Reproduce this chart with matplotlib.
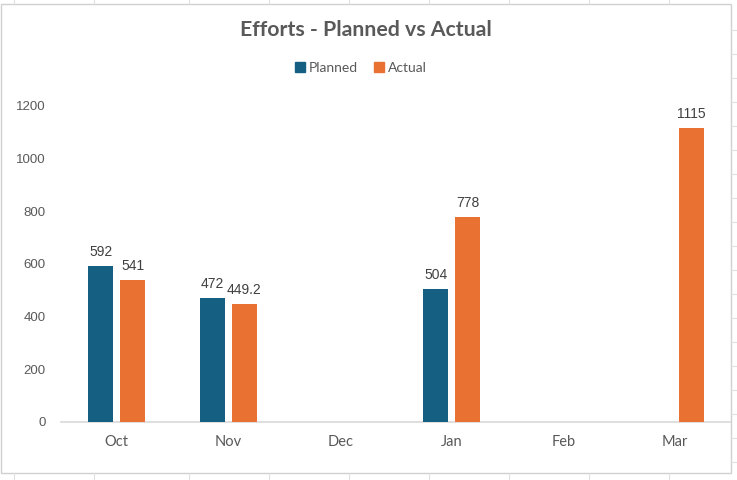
import numpy as np
import matplotlib
matplotlib.use("Agg")
import matplotlib.pyplot as plt
from matplotlib.lines import Line2D
from matplotlib.patches import Rectangle

# dados do grafico
meses = ['Oct', 'Nov', 'Dec', 'Jan', 'Feb', 'Mar']
planned = [592, 472, None, 504, None, None]
actual = [541, 449.2, None, 778, None, 1115]
rotulos_planned = ['592', '472', '', '504', '', '']
rotulos_actual = ['541', '449.2', '', '778', '', '1115']
yticks = [0, 200, 400, 600, 800, 1000, 1200]

cor_planned = '#156082'
cor_actual = '#E97132'
cinza_txt = '#595959'
narrow = ['Lato', 'DejaVu Sans']

fig = plt.figure(figsize=(7.37, 4.80), dpi=100)
ax = fig.add_axes([61/737, 1-422/480, 670/737, 316/480])

x = np.arange(len(meses))
larg = 0.224
desl = 0.143

for i in range(len(meses)):
    if planned[i] is not None:
        ax.bar(x[i]-desl, planned[i], larg, color=cor_planned, zorder=3)
        ax.annotate(rotulos_planned[i], (x[i]-desl, planned[i]), xytext=(0, 5),
                    textcoords='offset points', ha='center', va='bottom',
                    fontsize=10, color='#404040', family='Liberation Sans')
    if actual[i] is not None:
        ax.bar(x[i]+desl, actual[i], larg, color=cor_actual, zorder=3)
        ax.annotate(rotulos_actual[i], (x[i]+desl, actual[i]), xytext=(0, 5),
                    textcoords='offset points', ha='center', va='bottom',
                    fontsize=10, color='#404040', family='Liberation Sans')

ax.set_xlim(-0.5, len(meses)-0.5)
ax.set_ylim(0, 1200)
ax.set_xticks(x)
ax.set_xticklabels(meses, family=narrow, fontsize=10.5, color=cinza_txt)
ax.set_yticks(yticks)
ax.set_yticklabels([str(v) for v in yticks], family='Liberation Sans', fontsize=9.5, color=cinza_txt)
ax.tick_params(axis='both', length=0)
ax.tick_params(axis='x', pad=9)
ax.tick_params(axis='y', pad=11)
for s in ['top', 'right', 'left']:
    ax.spines[s].set_visible(False)
ax.spines['bottom'].set_color('#D9D9D9')
ax.spines['bottom'].set_linewidth(1.2)

fig.text(366/737, 1-30/480, 'Efforts - Planned vs Actual', ha='center', va='center',
         fontsize=15.3, fontweight='bold', color=cinza_txt, family=narrow)

handles = [Rectangle((0, 0), 1, 1, color=cor_planned), Rectangle((0, 0), 1, 1, color=cor_actual)]
fig.legend(handles, ['Planned', 'Actual'], loc='center', bbox_to_anchor=(361/737, 1-68/480),
           ncol=2, frameon=False, handlelength=0.7, handleheight=0.7, handletextpad=0.3,
           columnspacing=1.2, prop={'family': narrow, 'size': 10}, labelcolor=cinza_txt)

# moldura do grafico e linhas da planilha
fig.add_artist(Rectangle((1/737, 1-473/480), 730/737, 469/480, transform=fig.transFigure,
                         fill=False, edgecolor='#D0D0D0', linewidth=1))
for xp in [14, 94, 189, 269, 349, 429, 509, 589, 669]:
    fig.add_artist(Line2D([xp/737, xp/737], [1-4/480, 1], transform=fig.transFigure, color='#E0E0E0', lw=0.8))
    fig.add_artist(Line2D([xp/737, xp/737], [0, 1-473/480], transform=fig.transFigure, color='#E0E0E0', lw=0.8))
for yp in range(30, 480, 24):
    fig.add_artist(Line2D([731/737, 1], [1-yp/480, 1-yp/480], transform=fig.transFigure, color='#E0E0E0', lw=0.8))

plt.savefig('out.png', dpi=100)
plt.close()
